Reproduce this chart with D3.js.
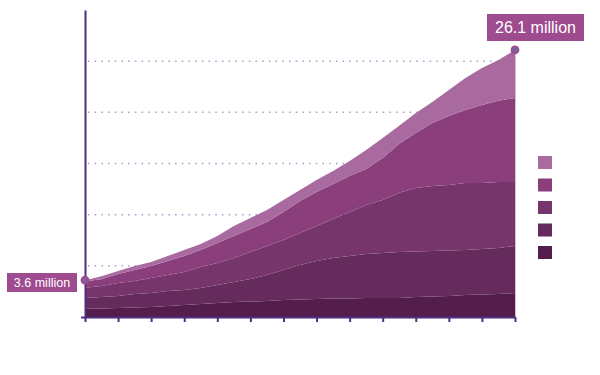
<!DOCTYPE html>
<html>
<head>
<meta charset="utf-8">
<script src="https://cdn.jsdelivr.net/npm/d3@7"></script>
<style>
  html, body { margin: 0; padding: 0; background: #fff; }
  svg { display: block; }
  text { font-family: "Liberation Sans", Arial, sans-serif; }
</style>
</head>
<body>
<svg id="chart" width="600" height="375"></svg>
<script>
// ---- data (millions) ----
const years = d3.range(1990, 2017);
const series1 = [0.80,0.83,0.88,0.93,0.98,1.07,1.17,1.27,1.37,1.47,1.51,1.56,1.66,1.71,1.76,1.81,1.81,1.86,1.86,1.86,1.95,2.00,2.05,2.15,2.20,2.25,2.35];
const series2 = [1.05,1.12,1.17,1.32,1.37,1.47,1.47,1.56,1.76,1.95,2.20,2.54,2.93,3.37,3.71,3.96,4.15,4.30,4.40,4.50,4.45,4.45,4.45,4.40,4.45,4.50,4.59];
const series3 = [1.00,1.07,1.27,1.27,1.47,1.56,1.76,2.05,2.15,2.35,2.64,2.83,2.93,3.13,3.42,3.81,4.30,4.79,5.18,5.77,6.21,6.35,6.40,6.55,6.45,6.45,6.25];
const series4 = [0.65,0.68,0.88,1.07,1.17,1.37,1.56,1.66,1.95,2.15,2.25,2.35,2.74,3.13,3.32,3.42,3.52,3.52,4.10,4.79,5.37,6.16,6.74,7.13,7.62,7.92,8.21];
const series5 = [0.10,0.29,0.29,0.39,0.39,0.49,0.59,0.59,0.68,0.98,1.07,1.17,1.17,1.07,1.17,1.27,1.47,1.86,1.95,1.76,1.95,2.05,2.54,3.13,3.62,4.00,4.70];
const seriesKeys = ["s1","s2","s3","s4","s5"];
const seriesColors = ["#541e4c","#652b5c","#76356b","#8a3e7c","#a96b9f"];
const xTickYears = d3.range(1990, 2017, 2);
const gridValues = [5, 10, 15, 20, 25];

const table = years.map((yr, i) => ({
  year: yr, s1: series1[i], s2: series2[i], s3: series3[i], s4: series4[i], s5: series5[i]
}));
const totals = table.map(d => d.s1 + d.s2 + d.s3 + d.s4 + d.s5);

// ---- layout ----
const svg = d3.select("#chart");
const x = d3.scaleLinear().domain([1990, 2016]).range([85, 515]);
const y = d3.scaleLinear().domain([0, 30]).range([317, 10]);
const axisColor = "#4f2f7f";

// gridlines
svg.append("g").selectAll("line").data(gridValues).join("line")
  .attr("x1", 88).attr("x2", x(2016))
  .attr("y1", d => y(d)).attr("y2", d => y(d))
  .attr("stroke", "#a99bc9").attr("stroke-width", 1.5)
  .attr("stroke-dasharray", "1.5,5.2");

// stacked areas
const stack = d3.stack().keys(seriesKeys);
const layers = stack(table);
const area = d3.area()
  .x(d => x(d.data.year))
  .y0(d => y(d[0]))
  .y1(d => y(d[1]));
svg.append("g").selectAll("path").data(layers).join("path")
  .attr("d", area)
  .attr("fill", (d, i) => seriesColors[i]);

// right edge highlight
svg.append("line")
  .attr("x1", x(2016) + 0.5).attr("x2", x(2016) + 0.5)
  .attr("y1", y(totals[totals.length - 1])).attr("y2", y(0))
  .attr("stroke", "#d9bfd6").attr("stroke-width", 1);

// x axis
const xAxis = svg.append("g")
  .attr("transform", `translate(0,${y(0)})`)
  .call(d3.axisBottom(x).tickValues(xTickYears).tickSize(5).tickSizeOuter(0).tickFormat(""));
xAxis.select(".domain").attr("stroke", axisColor).attr("stroke-width", 2);
xAxis.selectAll(".tick line").attr("stroke", axisColor).attr("stroke-width", 2);

// y axis
const yAxis = svg.append("g")
  .attr("transform", `translate(${x(1990)},0)`)
  .call(d3.axisLeft(y).tickValues([0]).tickSize(4).tickSizeOuter(0).tickFormat(""));
yAxis.select(".domain").attr("stroke", axisColor).attr("stroke-width", 2);
yAxis.selectAll(".tick line").attr("stroke", axisColor).attr("stroke-width", 2);

// legend swatches
svg.append("g").selectAll("rect").data(seriesColors.slice().reverse()).join("rect")
  .attr("x", 538).attr("y", (d, i) => 156 + i * 22.5)
  .attr("width", 14).attr("height", 13)
  .attr("fill", d => d);

// end-point markers and labels
const labelFill = "#9e4b8f";
const fmt = v => v.toFixed(1) + " million";
const endpoints = [
  { i: 0, box: { cx: 42, cy: 282.5, w: 70, h: 19 }, size: 12.5 },
  { i: totals.length - 1, box: { cx: 535.5, cy: 27.5, w: 97, h: 27 }, size: 16 }
];
endpoints.forEach(p => {
  svg.append("rect")
    .attr("x", p.box.cx - p.box.w / 2).attr("y", p.box.cy - p.box.h / 2)
    .attr("width", p.box.w).attr("height", p.box.h)
    .attr("fill", labelFill);
  svg.append("text")
    .attr("x", p.box.cx).attr("y", p.box.cy)
    .attr("dy", "0.36em")
    .attr("text-anchor", "middle")
    .attr("font-size", p.size)
    .attr("fill", "#fff")
    .text(fmt(totals[p.i]));
  svg.append("circle")
    .attr("cx", x(years[p.i])).attr("cy", y(totals[p.i]))
    .attr("r", 3.6)
    .attr("fill", "#7f5e9c").attr("stroke", "#a4488f").attr("stroke-width", 1.6);
});
</script>
</body>
</html>
